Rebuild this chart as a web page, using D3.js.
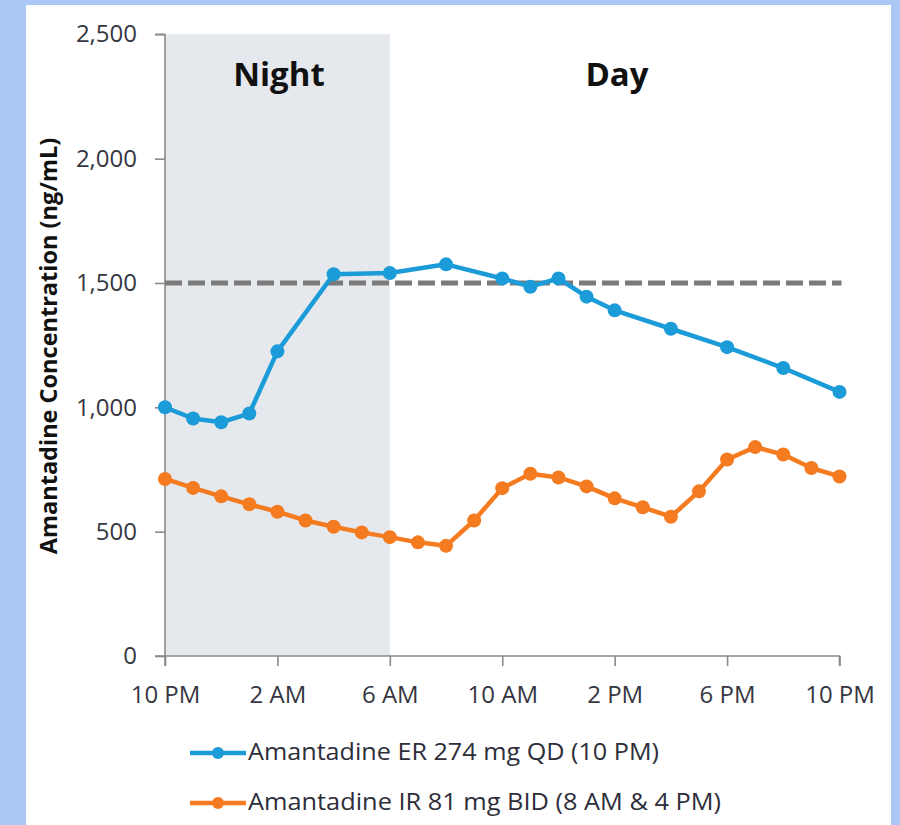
<!DOCTYPE html>
<html>
<head>
<meta charset="utf-8">
<script src="https://cdn.jsdelivr.net/npm/d3@7/dist/d3.min.js"></script>
<style>
  html, body { margin: 0; padding: 0; background: #abc8f4; }
  svg { display: block; }
</style>
</head>
<body>
<svg id="chart" width="900" height="825"></svg>
<script>
// ---- Data (hours after 10 PM) ----
const erHours  = [0, 1, 2, 3, 4, 6, 8, 10, 12, 13, 14, 15, 16, 18, 20, 22, 24];
const erValues = [1000, 955, 940, 975, 1225, 1535, 1540, 1575, 1518, 1485, 1518, 1445, 1390, 1316, 1242, 1158, 1062];

const irHours  = [0, 1, 2, 3, 4, 5, 6, 7, 8, 9, 10, 11, 12, 13, 14, 15, 16, 17, 18, 19, 20, 21, 22, 23, 24];
const irValues = [712, 676, 642, 610, 580, 545, 520, 497, 478, 457, 443, 545, 675, 733, 718, 682, 634, 598, 560, 662, 790, 840, 810, 756, 722];

const xTickHours  = [0, 4, 8, 12, 16, 20, 24];
const xTickLabels = ["10 PM", "2 AM", "6 AM", "10 AM", "2 PM", "6 PM", "10 PM"];
const yTicks      = [0, 500, 1000, 1500, 2000, 2500];
const thresholdValue = 1500;
const nightEndHour = 8;
const seriesNames = ["Amantadine ER 274 mg QD (10 PM)", "Amantadine IR 81 mg BID (8 AM & 4 PM)"];
const periodLabels = ["Night", "Day"];
const yTitle = "Amantadine Concentration (ng/mL)";

// ---- Layout ----
const svg = d3.select("#chart");
const BLUE = "#1b9bd7", ORANGE = "#f47b20";
const FONT = "'Open Sans', 'DejaVu Sans', sans-serif";

svg.append("rect").attr("x", 26).attr("y", 5).attr("width", 865).attr("height", 820).attr("fill", "#ffffff");

const x = d3.scaleLinear().domain([0, 24]).range([165, 839.5]);
const y = d3.scaleLinear().domain([0, 2500]).range([656, 34.3]);

// Night shading
svg.append("rect")
  .attr("x", x(0)).attr("y", y(2500))
  .attr("width", x(nightEndHour) - x(0))
  .attr("height", y(0) - y(2500))
  .attr("fill", "#e5e8ed");

// Period labels
svg.append("text").attr("x", 279).attr("y", 86).attr("text-anchor", "middle")
  .attr("font-family", FONT).attr("font-weight", 700).attr("font-size", 33).attr("fill", "#111")
  .text(periodLabels[0]);
svg.append("text").attr("x", 617).attr("y", 86).attr("text-anchor", "middle")
  .attr("font-family", FONT).attr("font-weight", 700).attr("font-size", 33).attr("fill", "#111")
  .text(periodLabels[1]);

// Axes
const yAxis = d3.axisLeft(y).tickValues(yTicks).tickFormat(d3.format(",")).tickSize(10).tickPadding(18);
const gy = svg.append("g").attr("transform", `translate(${x(0)},0)`).call(yAxis);
const xAxis = d3.axisBottom(x).tickValues(xTickHours).tickFormat((d, i) => xTickLabels[i]).tickSize(10).tickPadding(20);
const gx = svg.append("g").attr("transform", `translate(0,${y(0)})`).call(xAxis);

[gx, gy].forEach(g => {
  g.select(".domain").attr("stroke", "#8a8a8a").attr("stroke-width", 1.6);
  g.selectAll(".tick line").attr("stroke", "#8a8a8a").attr("stroke-width", 1.6);
  g.selectAll(".tick text").attr("font-family", FONT).attr("font-size", 24).attr("fill", "#363642");
});
gy.select(".domain").attr("d", `M-10,${y(2500)}H0V${y(0)}H-10`);
gx.select(".domain").attr("d", `M${x(0)},10V0H${x(24)}V10`);

// Y title
svg.append("text")
  .attr("transform", `translate(57,346) rotate(-90)`)
  .attr("text-anchor", "middle")
  .attr("font-family", FONT).attr("font-weight", 700).attr("font-size", 23.5).attr("fill", "#111")
  .text(yTitle);

// Threshold dashed line
svg.append("line")
  .attr("x1", x(0)).attr("x2", x(24) + 2)
  .attr("y1", y(thresholdValue)).attr("y2", y(thresholdValue))
  .attr("stroke", "#7a7a7a").attr("stroke-width", 5).attr("stroke-dasharray", "17,6");

// Series
const line = d3.line().x(d => x(d[0])).y(d => y(d[1]));
function drawSeries(hours, values, color) {
  const pts = hours.map((h, i) => [h, values[i]]);
  svg.append("path").datum(pts).attr("d", line)
    .attr("fill", "none").attr("stroke", color).attr("stroke-width", 4.5).attr("stroke-linejoin", "round");
  svg.append("g").selectAll("circle").data(pts).join("circle")
    .attr("cx", d => x(d[0])).attr("cy", d => y(d[1])).attr("r", 7).attr("fill", color);
}
drawSeries(irHours, irValues, ORANGE);
drawSeries(erHours, erValues, BLUE);

// Legend
const legend = [
  { name: seriesNames[0], color: BLUE, ly: 753, ty: 759.5, w: 411 },
  { name: seriesNames[1], color: ORANGE, ly: 803, ty: 810, w: 473 }
];
legend.forEach(l => {
  svg.append("line").attr("x1", 190).attr("x2", 246).attr("y1", l.ly).attr("y2", l.ly)
    .attr("stroke", l.color).attr("stroke-width", 4.5);
  svg.append("circle").attr("cx", 218).attr("cy", l.ly).attr("r", 6).attr("fill", l.color);
  svg.append("text").attr("x", 248).attr("y", l.ty)
    .attr("font-family", FONT).attr("font-size", 23).attr("fill", "#2e2e3a")
    .attr("textLength", l.w).attr("lengthAdjust", "spacingAndGlyphs")
    .text(l.name);
});
</script>
</body>
</html>
